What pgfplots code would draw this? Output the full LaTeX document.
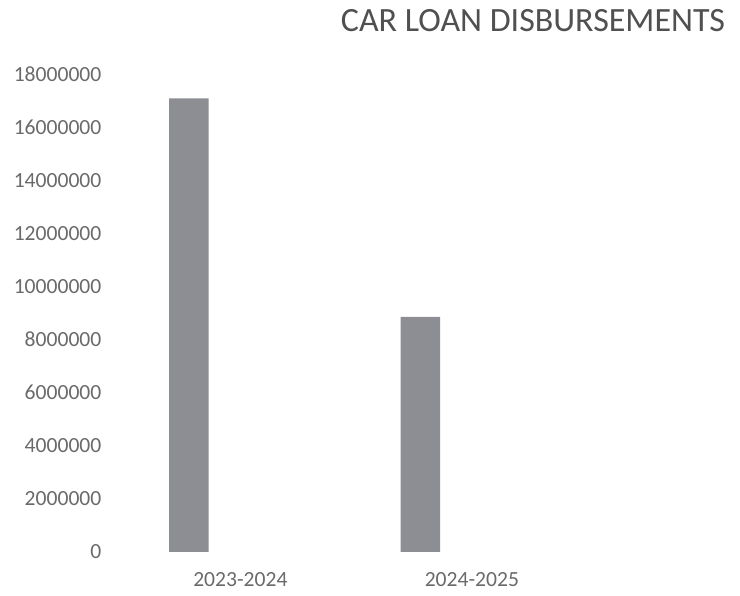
\documentclass[border=0pt]{standalone}
\usepackage{pgfplots}
\pgfplotsset{compat=1.18}
\usepackage{fontspec}
\setmainfont{Carlito}
\definecolor{barfill}{HTML}{8D8D94}
\definecolor{labelgrey}{HTML}{6A6A6A}
\definecolor{titlegrey}{HTML}{505050}

\begin{document}
\begin{tikzpicture}
    \useasboundingbox (-119.55pt,-44pt) rectangle (620.45pt,552pt);
    \begin{axis}[
        at={(0pt,0pt)}, anchor=south west,
        scale only axis,
        width=532.45pt, height=478pt,
        xmin=-0.3, xmax=2.0,
        ymin=0, ymax=18000000,
        axis line style={draw=none},
        major tick length=0pt,
        xtick={0.222,1.222},
        xticklabels={2023-2024,2024-2025},
        ytick={0,2000000,...,18000000},
        scaled y ticks=false,
        /pgf/number format/fixed,
        /pgf/number format/1000 sep={},
        /pgf/number format/assume math mode=true,
        tick label style={font=\fontsize{21.6}{26}\selectfont, text=labelgrey, inner sep=0pt},
        yticklabel style={anchor=east, xshift=-18pt},
        xticklabel style={anchor=center, yshift=-28pt},
    ]
    \addplot[ybar, bar width=39.5pt, fill=barfill, draw=none]
        coordinates {
            (0,17080000)
            (1,8850000)
        };
    \end{axis}
    \node[text=titlegrey, font=\fontsize{34}{40}\selectfont, inner sep=0pt]
        at (413.45pt,531pt) {CAR LOAN DISBURSEMENTS};
\end{tikzpicture}
\end{document}
